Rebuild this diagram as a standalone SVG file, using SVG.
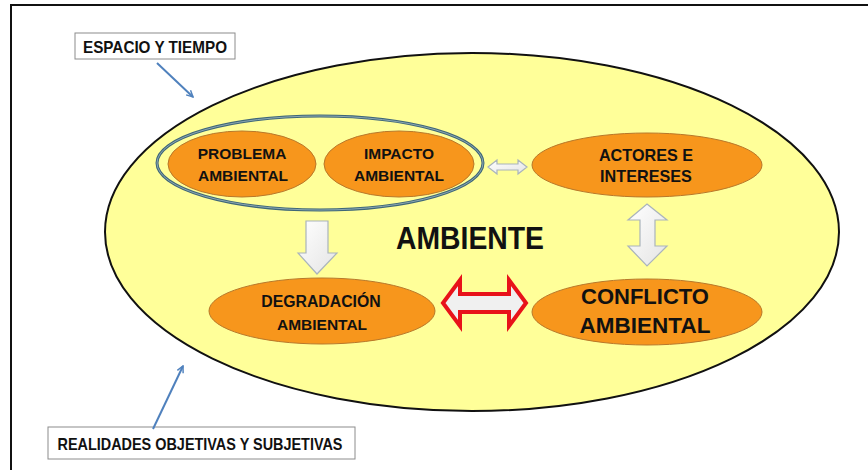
<svg xmlns="http://www.w3.org/2000/svg" width="868" height="470" viewBox="0 0 868 470">
<style>
.lbl{font-family:"Liberation Sans",Arial,sans-serif;font-weight:bold;fill:#111;}
.orange{fill:#f7961c;stroke:#b8782a;stroke-width:1;}
.box{fill:#fff;stroke:#8c8c8c;stroke-width:1;}
.light{fill:url(#lg);stroke:#aab4bc;stroke-width:1.2;stroke-linejoin:miter;}
.pointer{stroke:#4f81bd;stroke-width:2;fill:none;}
</style>
<defs>
<linearGradient id="lg" x1="0" y1="0" x2="1" y2="1">
<stop offset="0" stop-color="#ffffff"/>
<stop offset="1" stop-color="#e4e4e4"/>
</linearGradient>
<marker id="ah" viewBox="0 0 10 10" refX="9" refY="5" markerWidth="8" markerHeight="8" orient="auto" markerUnits="userSpaceOnUse">
<path d="M1,1 L9,5 L1,9" fill="none" stroke="#4f81bd" stroke-width="1.8"/>
</marker>
</defs>
<rect x="0" y="0" width="868" height="470" fill="#fff"/>
<rect x="11" y="5" width="870" height="480" fill="none" stroke="#111" stroke-width="2"/>

<g id="ambiente">
<ellipse cx="472" cy="232" rx="367" ry="179" fill="#ffff99" stroke="#111" stroke-width="2"/>
<text class="lbl" x="470" y="249" font-size="32" text-anchor="middle" textLength="148" lengthAdjust="spacingAndGlyphs">AMBIENTE</text>
</g>

<g id="grupo">
<ellipse cx="320" cy="163" rx="163" ry="47" fill="none" stroke="#3f6778" stroke-width="3"/>
<ellipse cx="320" cy="163" rx="163" ry="47" fill="none" stroke="#9fb8c0" stroke-width="0.8"/>
</g>

<g id="problema">
<ellipse class="orange" cx="242" cy="164" rx="74" ry="33"/>
<text class="lbl" x="242" y="159" font-size="15.5" text-anchor="middle">PROBLEMA</text>
<text class="lbl" x="243" y="181" font-size="15.5" text-anchor="middle">AMBIENTAL</text>
</g>

<g id="impacto">
<ellipse class="orange" cx="399" cy="164" rx="75" ry="33"/>
<text class="lbl" x="399" y="159" font-size="15.5" text-anchor="middle">IMPACTO</text>
<text class="lbl" x="399" y="181" font-size="15.5" text-anchor="middle">AMBIENTAL</text>
</g>

<g id="actores">
<ellipse class="orange" cx="647" cy="165" rx="115" ry="32"/>
<text class="lbl" x="646" y="161" font-size="16.2" text-anchor="middle">ACTORES E</text>
<text class="lbl" x="646" y="182" font-size="16.2" text-anchor="middle">INTERESES</text>
</g>

<g id="degradacion">
<ellipse class="orange" cx="322" cy="311" rx="113" ry="33"/>
<text class="lbl" x="321" y="307" font-size="15.8" text-anchor="middle">DEGRADACIÓN</text>
<text class="lbl" x="322" y="330" font-size="15.5" text-anchor="middle">AMBIENTAL</text>
</g>

<g id="conflicto">
<ellipse class="orange" cx="647" cy="312" rx="115" ry="33"/>
<text class="lbl" x="645" y="304" font-size="22" text-anchor="middle">CONFLICTO</text>
<text class="lbl" x="645" y="333" font-size="22.5" text-anchor="middle">AMBIENTAL</text>
</g>

<g id="espacio">
<rect class="box" x="75" y="33" width="160" height="26"/>
<text class="lbl" x="155" y="52.5" font-size="16.5" text-anchor="middle" textLength="144" lengthAdjust="spacingAndGlyphs">ESPACIO Y TIEMPO</text>
</g>

<g id="realidades">
<rect class="box" x="48" y="427" width="307" height="32"/>
<text class="lbl" x="200" y="450" font-size="16.5" text-anchor="middle" textLength="285" lengthAdjust="spacingAndGlyphs">REALIDADES OBJETIVAS Y SUBJETIVAS</text>
</g>

<g id="connectors">
<line class="pointer" x1="157" y1="63" x2="193" y2="97" marker-end="url(#ah)"/>
<line class="pointer" x1="153" y1="429" x2="183" y2="366" marker-end="url(#ah)"/>
<polygon class="light" points="488,167 497,160 497,164 518,164 518,160 527,167 518,174 518,170 497,170 497,174"/>
<polygon class="light" points="306,221 328,221 328,253 337,253 317,274 298,253 306,253"/>
<polygon class="light" points="647,204 667,220 655,220 655,246 667,246 647,266 628,246 640,246 640,220 628,220"/>
<polygon points="443,303 460,280 460,294 509,294 509,280 526,303 509,326 509,312 460,312 460,326" fill="#f0f0f0" stroke="#e8121a" stroke-width="4" stroke-linejoin="miter"/>
</g>
</svg>
